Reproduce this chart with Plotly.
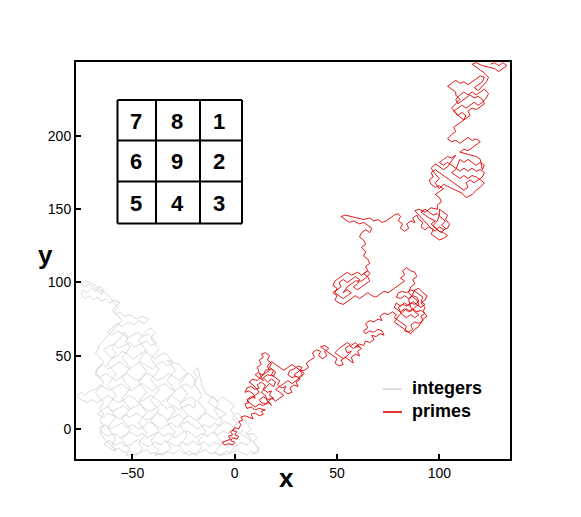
import plotly.graph_objects as go

# Walks (data units)
primes_walk = [
    (0,0),(-2,-2),(-1,-4),(-3,-5),(-2,-7),(-4,-8),(-6,-9),(-5,-11),(-3,-10),(-1,-11),(0,-9),(-2,-8),(-1,-6),(1,-7),(2,-5),(0,-4),(1,-2),(-1,-1),(0,1),(2,0),
    (3,3),(2,5),(4,6),(3,8),(5,9),
    (7,8),(9,7),(8,10),(10,11),(12,9),(14,10),(13,12),(15,13),(12,14),(10,13),(8,15),(6,14),
    (5,17),(7,18),(6,20),(8,22),(10,21),(9,24),(7,26),(5,25),(6,28),(8,29),(10,27),(12,28),(11,30),(13,32),(15,30),(14,27),(16,25),(18,26),(17,23),(19,21),(16,20),(14,22),(12,20),(13,18),(15,17),(17,18),(18,16),(16,19),(15,23),(13,25),(15,28),
    (17,31),(19,29),(20,32),(18,34),(16,32),(14,35),(16,37),(19,36),(20,39),(18,41),(15,40),(14,37),(12,38),
    (14,33),(12,35),(10,37),(12,39),(11,42),(13,44),(12,47),(14,49),(13,51),(15,52),(17,50),(16,47),(18,45),(17,42),(19,40),(18,37),(20,35),
    (22,33),(21,30),(23,28),(25,29),(24,26),(26,24),(28,25),(27,28),(29,30),(31,29),(30,32),(32,34),(30,36),(28,35),(26,37),(27,40),(29,41),(31,43),(33,42),
    (31,39),(29,37),(31,35),(33,37),(32,40),(34,38),
    (32,35),(30,33),(28,31),(26,33),(24,31),(22,29),(20,27),(22,25),(24,23),(22,21),(20,19),(18,21),(16,18),(14,16),(12,17),(10,15),(8,17),(6,19),(8,21),(10,23),(12,25),(11,27),(9,30),(7,32),(9,34),(11,33),(13,36),(15,38),(17,40),(16,43),(18,46),(20,44),(22,42),(24,40),(26,42),(28,44),(30,42),(32,40),
    (34,40),(36,42),(35,45),
    (37,47),(39,49),(38,52),(40,54),(42,53),(41,50),(43,48),(45,50),(44,53),(46,55),(44,57),(42,56),
    (46,52),(48,50),(50,48),(49,45),(51,43),(53,44),(52,47),(54,49),(56,47),(58,45),(57,49),(59,51),(61,50),(60,53),(62,55),(60,57),(58,55),(56,57),(54,55),(55,52),(57,53),
    (55,50),(53,48),(51,50),(49,52),(51,55),(53,57),(55,59),(57,57),(59,59),(61,56),
    (59,56),(61,58),(63,57),(64,60),(66,59),(68,61),(67,64),(69,63),(71,65),(73,64),(72,67),(70,68),(68,66),(66,67),(64,65),
    (63,67),(65,69),(64,72),(66,74),(68,73),(70,75),(72,74),
    (71,77),(73,79),(75,78),(77,80),(79,78),(78,76),
    (80,74),(82,72),(84,70),(83,67),(85,66),(87,68),(86,71),(88,73),(90,72),(92,74),(91,77),(93,79),(91,81),(89,80),(87,82),(85,80),(83,82),(81,80),(80,83),(82,85),(84,84),(86,86),(88,85),(90,87),(89,90),(87,91),(85,89),(83,91),(81,89),(79,90),(80,93),(82,94),(84,93),(86,95),(88,94),
    (90,92),(92,90),(91,87),(93,85),(91,83),(89,85),(87,87),(85,84),(83,86),(81,84),(79,86),(78,83),(80,81),(82,78),(84,76),(86,78),(88,76),(90,78),(88,80),(86,83),(85,88),(87,92),(88,95),
    (90,96),(92,93),(94,91),(93,88),(91,86),(93,83),(92,80),(94,77),(92,75),(90,70),(88,68),(86,65),(84,67),(82,69),(80,71),(78,73),(80,77),(82,80),(84,82),(86,80),(88,83),(90,85),(89,88),(87,90),(85,93),
    (86,97),(88,99),(87,102),(89,104),(88,107),(86,108),(84,110),(82,108),(83,105),(81,103),(83,101),(81,99),(79,97),
    (77,95),(75,93),(73,94),(71,92),(69,90),(67,91),
    (65,93),(63,91),(61,89),(59,91),(57,89),(55,87),(53,85),(51,86),(49,88),(50,91),(48,93),(50,95),(52,97),(51,100),(53,102),(55,100),(57,102),(59,104),(61,102),(60,99),(58,97),(60,95),(62,97),(64,99),(66,101),(65,104),(63,106),(65,108),
    (62,105),(60,107),(57,105),(55,107),(53,105),(51,103),(49,101),(48,98),(50,96),(49,93),(51,91),(53,89),(55,91),(57,93),(55,95),(53,93),(55,97),(57,99),(59,101),(62,101),(64,103),(66,106),(65,108),
    (64,111),(66,113),(65,116),(63,118),(64,121),
    (62,124),(64,126),(63,129),(61,131),(62,134),(64,136),(66,134),(67,137),(65,139),(63,141),(61,140),
    (58,142),(56,141),(54,143),(52,145),(54,146),(57,145),(60,144),(63,143),
    (66,144),(68,142),(70,143),(72,141),(74,142),(76,144),(78,146),(80,147),
    (81,145),(80,142),(82,140),(81,137),(83,135),(85,137),(84,140),(86,142),(88,141),(87,144),(89,146),
    (90,143),(92,141),(91,138),(93,136),(95,138),(97,136),(96,133),(98,131),(100,129),(102,130),(104,132),(102,134),(100,135),(98,137),(96,140),(98,142),(95,144),(93,146),(91,148),(93,150),(95,148),(97,146),(99,147),
    (101,144),(103,142),(101,139),(103,137),(101,134),(99,136),(97,139),(99,142),(100,146),(100,150),
    (102,148),(104,146),(103,143),(105,140),(104,137),(102,136),(100,138),(98,135),(96,137),(94,140),(92,143),(90,146),(88,149),(90,150),(93,148),(96,151),(99,150),
    (99,153),(101,155),(100,158),(98,160),(100,162),
    (102,164),(100,166),(98,165),(96,167),(95,170),(97,172),(96,175),(98,177),(100,175),(102,173),(104,171),(106,169),(108,167),(110,165),(112,163),(114,165),(113,168),(115,170),(117,168),(119,170),(121,172),(122,175),(120,177),(118,176),(116,178),(114,176),(112,178),(110,176),(108,178),(106,180),(104,182),(102,180),(100,182),(102,184),(104,186),(106,185),(108,187),
    (106,183),(104,179),(102,177),(100,179),(98,181),(96,178),(98,174),(100,171),(98,168),(100,164),(102,167),(105,165),(108,163),(111,161),(113,158),(116,160),(118,163),(120,165),(122,168),(120,170),(118,172),(116,173),(114,171),(112,173),(110,171),(108,173),(106,175),(108,177),
    (110,184),(112,182),(114,184),(116,182),(118,180),(120,182),(122,180),(121,177),(120,184),(118,186),(115,187),(112,188),
    (110,189),(112,191),(114,190),(116,192),(118,194),(120,196),(118,198),(116,197),(114,199),(112,197),(110,195),(108,197),(106,196),(104,198),
    (106,201),(108,203),(107,206),(109,208),(111,210),
    (113,212),(115,214),(114,217),(116,219),(118,218),(120,220),(122,222),(121,225),(119,227),(117,226),(115,228),(113,226),(111,224),(109,222),(108,225),(110,228),
    (112,230),(114,228),(116,230),(118,228),(120,230),(122,232),(124,229),(123,226),(121,223),(119,221),(117,223),(115,221),(113,219),(111,221),(109,219),(107,217),(109,214),(111,216),(113,214),(112,211),(110,213),(108,216),(106,219),(108,222),(110,225),(108,228),
    (108,230),(106,232),(104,234),(106,236),(108,238),(110,236),(112,237),(114,235),(116,237),(118,239),(120,241),(122,240),(121,237),(119,235),(117,233),(119,231),
    (121,234),(123,237),(124,240),(122,243),(120,245),(118,247),(116,249),(118,250),(121,248),(124,247),(127,246),(129,244),(131,246),(133,248),(131,250),(129,248),(127,250),(125,249),
]

integers_walk = [
    (0,0),(2,-3),(4,-1),(6,-4),(9,-3),(11,-6),(9,-9),(11,-12),(12,-15),(10,-17),
    (8,-15),(6,-18),(3,-16),(1,-14),(-2,-17),(-4,-15),(-7,-18),(-9,-16),(-12,-17),(-14,-14),(-17,-16),(-19,-18),(-22,-15),(-25,-17),(-27,-14),(-30,-17),(-33,-15),(-35,-18),(-38,-16),(-41,-17),(-43,-14),(-46,-16),(-49,-18),(-51,-15),(-54,-16),(-57,-13),(-59,-15),(-62,-12),
    (-64,-10),(-61,-8),(-58,-11),(-56,-9),(-53,-12),(-50,-10),(-47,-7),(-45,-10),(-42,-12),(-39,-9),(-36,-11),(-34,-8),(-31,-10),(-28,-12),(-26,-9),(-23,-11),(-20,-8),(-18,-11),(-15,-9),(-12,-12),(-10,-9),(-7,-11),(-4,-8),(-2,-10),(1,-12),(3,-9),(6,-11),(8,-8),
    (5,-5),(2,-3),(0,-6),(-3,-4),(-5,-1),(-8,-4),(-11,-2),(-13,-5),(-16,-3),(-19,-6),(-21,-3),(-24,-1),(-27,-4),(-29,-6),(-32,-3),(-35,-5),(-37,-2),(-40,-4),(-43,-6),(-45,-3),(-48,-5),(-51,-2),(-53,-4),(-56,-6),(-59,-3),(-62,-5),(-65,-2),
    (-66,1),(-63,3),(-61,0),(-58,2),(-55,4),(-53,1),(-50,3),(-47,0),(-44,2),(-42,5),(-39,3),(-36,0),(-34,2),(-31,4),(-28,1),(-26,3),(-23,5),(-20,2),(-18,0),(-15,3),(-12,1),(-10,4),(-7,2),(-5,5),(-2,3),(0,1),
    (2,5),(0,9),(-2,13),(0,16),(-3,19),(-6,22),(-8,19),(-11,22),(-13,18),(-10,15),(-7,13),(-4,10),
    (-7,8),(-9,6),(-12,9),(-14,11),(-17,8),(-19,6),(-22,9),(-25,7),(-27,10),(-30,8),(-33,6),(-35,9),(-38,11),(-40,8),(-43,6),(-46,9),(-48,11),(-51,8),(-54,10),(-56,7),(-59,9),(-62,11),(-64,8),(-67,10),
    (-65,13),(-62,15),(-60,12),(-57,14),(-54,16),(-52,13),(-49,15),(-46,17),(-44,14),(-41,12),(-38,15),(-36,17),(-33,14),(-30,16),(-27,13),(-25,15),(-22,17),(-20,14),
    (-19,19),(-21,22),(-24,20),(-26,18),(-29,21),(-31,23),(-34,20),(-36,18),(-39,21),(-41,23),(-44,20),(-47,18),(-49,21),(-52,23),(-54,20),(-57,18),(-60,21),(-62,23),(-65,20),(-67,18),(-70,20),(-72,18),(-75,20),(-77,22),(-75,25),(-73,23),(-71,26),
    (-68,27),(-66,30),(-63,28),(-61,26),(-58,29),(-55,31),(-53,28),(-50,26),(-48,29),(-45,31),(-42,28),(-40,26),(-37,29),(-34,31),(-32,28),(-29,26),(-26,29),(-24,31),(-21,28),(-19,31),
    (-20,35),(-22,38),(-25,36),(-27,33),(-30,36),(-32,38),(-35,35),(-38,33),(-40,36),(-43,38),(-45,35),(-48,33),(-51,36),(-53,38),(-56,35),(-58,33),(-61,36),(-63,38),(-66,35),(-68,37),
    (-67,42),(-64,44),(-62,41),(-59,43),(-56,46),(-54,43),(-51,41),(-48,44),(-46,46),(-43,43),(-40,41),(-38,44),(-35,46),(-33,43),(-30,45),
    (-32,49),(-34,52),(-37,50),(-39,48),(-42,51),(-44,53),(-47,50),(-50,48),(-52,51),(-55,53),(-57,50),(-60,48),(-62,51),(-64,54),
    (-62,56),(-59,58),(-57,55),(-54,57),(-51,59),(-49,56),(-46,58),(-43,60),(-41,57),(-38,59),
    (-40,62),(-42,65),(-45,63),(-47,66),(-50,64),(-52,62),(-55,65),(-57,67),(-60,64),(-62,66),
    (-60,69),(-57,72),(-55,70),(-52,73),(-49,71),(-47,74),(-44,72),(-42,75),(-45,77),(-48,75),
    (-51,78),(-54,77),(-56,80),(-58,78),(-60,81),(-58,84),(-56,86),(-59,88),(-61,86),
    (-63,89),(-65,87),(-67,90),(-69,88),(-71,91),(-73,89),(-75,92),(-74,95),(-72,93),(-70,96),(-68,94),(-66,97),(-64,95),(-65,92),(-67,94),(-69,97),(-71,99),(-73,97),(-75,99),(-73,101),(-70,100),(-68,98),
    (-66,95),(-63,93),(-61,90),(-59,86),(-57,83),(-59,80),(-57,77),(-55,74),(-57,71),(-59,68),(-61,65),(-63,62),(-65,59),(-67,56),
    (-66,56),(-68,52),(-66,49),(-64,46),(-66,42),(-68,39),(-66,35),(-64,32),(-66,28),(-68,25),(-66,21),(-64,18),(-66,14),(-64,10),(-66,6),(-64,2),(-66,-2),(-64,-6),
    (-62,-9),(-60,-12),(-58,-15),(-60,-11),(-58,-7),(-60,-3),(-62,1),(-60,5),(-58,8),(-60,12),(-62,16),(-60,19),(-58,23),(-60,27),(-62,30),(-60,34),(-58,37),(-60,41),(-62,44),(-60,48),(-58,52),(-60,55),(-58,59),(-56,62),
    (-54,66),(-52,63),(-53,59),(-51,56),(-53,52),(-55,49),(-53,45),(-51,42),(-53,38),(-55,35),(-53,31),(-51,28),(-53,24),(-55,21),(-53,17),(-51,14),(-53,10),(-55,7),(-53,3),(-51,0),(-53,-4),(-55,-7),(-53,-11),(-51,-14),(-53,-18),
    (-47,-17),(-45,-13),(-47,-10),(-45,-6),(-43,-3),(-45,1),(-47,4),(-45,8),(-43,11),(-45,15),(-47,18),(-45,22),(-43,25),(-45,29),(-47,32),(-45,36),(-43,39),(-45,43),(-47,46),(-45,50),(-43,53),(-45,57),(-47,60),(-45,64),(-43,67),
    (-41,69),(-39,66),(-41,62),(-39,58),(-37,55),(-39,51),(-41,48),(-39,44),(-37,41),(-39,37),(-41,34),(-39,30),(-37,27),(-39,23),(-41,20),(-39,16),(-37,13),(-39,9),(-41,6),(-39,2),(-37,-1),(-39,-5),(-41,-8),(-39,-12),(-37,-15),(-39,-18),
    (-33,-16),(-31,-13),(-33,-9),(-31,-6),(-29,-2),(-31,1),(-33,5),(-31,9),(-29,12),(-31,16),(-33,19),(-31,23),(-29,26),(-31,30),(-33,33),(-31,37),(-29,40),(-31,44),(-33,47),
    (-27,44),(-25,41),(-23,38),(-25,34),(-27,31),(-25,27),(-23,24),(-25,20),(-27,17),(-25,13),(-23,10),(-25,6),(-27,3),(-25,-1),(-23,-4),(-25,-8),(-27,-11),(-25,-15),(-23,-18),
    (-18,-16),(-16,-12),(-18,-9),(-16,-5),(-14,-2),(-16,2),(-18,5),(-16,9),(-14,12),(-16,16),(-18,19),(-16,23),(-18,27),(-20,31),(-18,35),(-20,39),(-18,42),
    (-16,30),(-14,24),(-10,21),(-8,17),(-10,13),(-8,9),(-6,6),(-8,2),(-10,-2),(-8,-6),(-6,-9),(-8,-13),(-10,-16),(-8,-18),
    (-3,-17),(-1,-14),(1,-11),(-1,-7),(-3,-3),(-1,1),(1,4),(-1,8),(1,11),
    (4,8),(6,4),(8,0),(6,-3),(8,-7),(10,-10),(12,-13),(10,-16),(8,-18),
]

grid_digits = [["7", "8", "1"], ["6", "9", "2"], ["5", "4", "3"]]
series_names = ["integers", "primes"]
x_ticks = [-50, 0, 50, 100]
y_ticks = [0, 50, 100, 150, 200]

GRAY = "rgb(212,212,212)"
RED = "rgb(222,0,0)"

ix, iy = zip(*integers_walk)
px_, py_ = zip(*primes_walk)

fig = go.Figure()
fig.add_trace(go.Scatter(x=ix, y=iy, mode="lines", line=dict(color=GRAY, width=0.9), name=series_names[0], showlegend=False))
fig.add_trace(go.Scatter(x=px_, y=py_, mode="lines", line=dict(color=RED, width=0.9), name=series_names[1], showlegend=False))

OFF = 8  # page body margin
W, H = 565, 501
L, T = 68, 54
R, B = W - 502, H - 451
pw, ph = W - L - R, H - T - B

def pxx(sx):
    return (sx - OFF - L) / pw

def pyy(sy):
    return (H - B - (sy - OFF)) / ph

shapes = []
annotations = []
xs = [117.5, 156, 200, 242]
ys = [100, 140.5, 181.5, 223.5]
for x in xs:
    shapes.append(dict(type="line", xref="paper", yref="paper", x0=pxx(x), x1=pxx(x), y0=pyy(ys[0]), y1=pyy(ys[-1]), line=dict(color="black", width=2)))
for y in ys:
    shapes.append(dict(type="line", xref="paper", yref="paper", x0=pxx(xs[0]), x1=pxx(xs[-1]), y0=pyy(y), y1=pyy(y), line=dict(color="black", width=2)))
cx = [136, 177, 219]
cy = [122, 161.5, 203]
for r in range(3):
    for c in range(3):
        annotations.append(dict(x=pxx(cx[c]), y=pyy(cy[r]), xref="paper", yref="paper", text=grid_digits[r][c],
                                showarrow=False, font=dict(family="Liberation Sans, Arial", size=22, color="black", weight="bold"),
                                xanchor="center", yanchor="middle"))
for i, (col, ly) in enumerate([(GRAY, 389), (RED, 412)]):
    shapes.append(dict(type="line", xref="paper", yref="paper", x0=pxx(383), x1=pxx(402), y0=pyy(ly), y1=pyy(ly), line=dict(color=col, width=1.6)))
    annotations.append(dict(x=pxx(410), y=pyy(ly - 1), xref="paper", yref="paper", text=series_names[i], showarrow=False,
                            font=dict(family="Liberation Sans, Arial", size=18, color="black", weight="bold"), xanchor="left", yanchor="middle"))
annotations.append(dict(x=pxx(286), y=pyy(478), xref="paper", yref="paper", text="x", showarrow=False,
                        font=dict(family="Liberation Sans, Arial", size=26, color="black", weight="bold"), xanchor="center", yanchor="middle"))
annotations.append(dict(x=pxx(45), y=pyy(255), xref="paper", yref="paper", text="y", showarrow=False,
                        font=dict(family="Liberation Sans, Arial", size=26, color="black", weight="bold"), xanchor="center", yanchor="middle"))

axis_common = dict(showgrid=False, zeroline=False, showline=True, linecolor="black", linewidth=2, mirror=True,
                   ticks="inside", ticklen=5, tickwidth=2, tickcolor="black",
                   tickfont=dict(family="Liberation Sans, Arial", size=14, color="black"))
fig.update_layout(
    width=W, height=H, margin=dict(l=L, r=R, t=T, b=B),
    paper_bgcolor="white", plot_bgcolor="white",
    xaxis=dict(range=[-77.5, 134.5], tickvals=x_ticks, **axis_common),
    yaxis=dict(range=[-20.5, 250.5], tickvals=y_ticks, **axis_common),
    shapes=shapes, annotations=annotations, showlegend=False,
)
fig.write_html("out.html")
